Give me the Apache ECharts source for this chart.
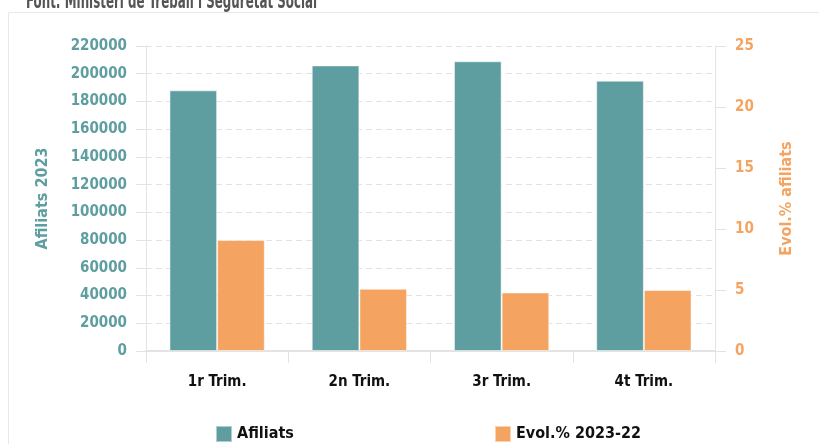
<!DOCTYPE html>
<html>
<head>
<meta charset="utf-8">
<script src="https://cdn.jsdelivr.net/npm/echarts@6/dist/echarts.min.js"></script>
<style>html,body{margin:0;padding:0;background:#fff}#c{width:819px;height:444px}</style>
</head>
<body>
<div id="c"></div>
<script>
var categories = ['1r Trim.', '2n Trim.', '3r Trim.', '4t Trim.'];
var afiliats = [188000, 206000, 209000, 195000];
var evolucio = [9.1, 5.1, 4.8, 5.0];
var seriesNames = ['Afiliats', 'Evol.% 2023-22'];
var sourceText = 'Font: Ministeri de Treball i Seguretat Social';

var FONT = '"DejaVu Sans Condensed", "Liberation Sans Narrow", sans-serif';
var TEAL = '#5F9EA0', ORANGE = '#F4A460', GRID = '#e3e3e3';

var chart = echarts.init(document.getElementById('c'));
chart.setOption({
  animation: false,
  backgroundColor: '#fff',
  graphic: [
    {type: 'rect', left: 6, top: 10, shape: {width: 900, height: 500}, style: {fill: 'none', stroke: '#e8e8e8', lineWidth: 1}, z: -1},
    {type: 'text', left: 26, top: -9, scaleX: 0.6, style: {text: sourceText, fontFamily: FONT, fontWeight: 'bold', fontSize: 22, fill: '#555'}}
  ],
  legend: [
    {data: [seriesNames[0]], left: 210, top: 420, itemWidth: 16, itemHeight: 16, icon: 'rect',
     textStyle: {fontFamily: FONT, fontWeight: 'bold', fontSize: 16, color: '#111'}},
    {data: [seriesNames[1]], left: 489, top: 420, itemWidth: 16, itemHeight: 16, icon: 'rect',
     textStyle: {fontFamily: FONT, fontWeight: 'bold', fontSize: 16, color: '#111'}}
  ],
  grid: {left: 146, right: 104, top: 46, bottom: 93},
  xAxis: {
    type: 'category', data: categories,
    axisLine: {lineStyle: {color: GRID, width: 2}},
    axisTick: {show: true, length: 12, lineStyle: {color: GRID}},
    axisLabel: {fontFamily: FONT, fontWeight: 'bold', fontSize: 15, color: '#111', margin: 24}
  },
  yAxis: [
    {
      type: 'value', min: 0, max: 220000, interval: 20000,
      name: 'Afiliats 2023', nameLocation: 'middle', nameGap: 95, nameRotate: 90,
      nameTextStyle: {fontFamily: FONT, fontWeight: 'bold', fontSize: 16, color: TEAL},
      axisLine: {show: true, lineStyle: {color: GRID}},
      axisTick: {show: true, length: 10, lineStyle: {color: GRID}},
      axisLabel: {fontFamily: FONT, fontWeight: 'bold', fontSize: 15, color: TEAL, margin: 19,
                  formatter: function (v) { return String(v); }},
      splitLine: {show: true, lineStyle: {color: GRID, type: [6, 4]}}
    },
    {
      type: 'value', min: 0, max: 25, interval: 5, position: 'right',
      name: 'Evol.% afiliats', nameLocation: 'middle', nameGap: 64, nameRotate: 90,
      nameTextStyle: {fontFamily: FONT, fontWeight: 'bold', fontSize: 16, color: ORANGE},
      axisLine: {show: true, lineStyle: {color: GRID}},
      axisTick: {show: true, length: 11, lineStyle: {color: GRID}},
      axisLabel: {fontFamily: FONT, fontWeight: 'bold', fontSize: 15, color: ORANGE, margin: 20},
      splitLine: {show: false}
    }
  ],
  series: [
    {name: seriesNames[0], type: 'bar', yAxisIndex: 0, data: afiliats, barGap: '0%', barCategoryGap: '33%',
     itemStyle: {color: TEAL, borderColor: 'rgba(255,255,255,0.5)', borderWidth: 1}},
    {name: seriesNames[1], type: 'bar', yAxisIndex: 1, data: evolucio, barGap: '0%', barCategoryGap: '33%',
     itemStyle: {color: ORANGE, borderColor: 'rgba(255,255,255,0.5)', borderWidth: 1}}
  ]
});
</script>
</body>
</html>
